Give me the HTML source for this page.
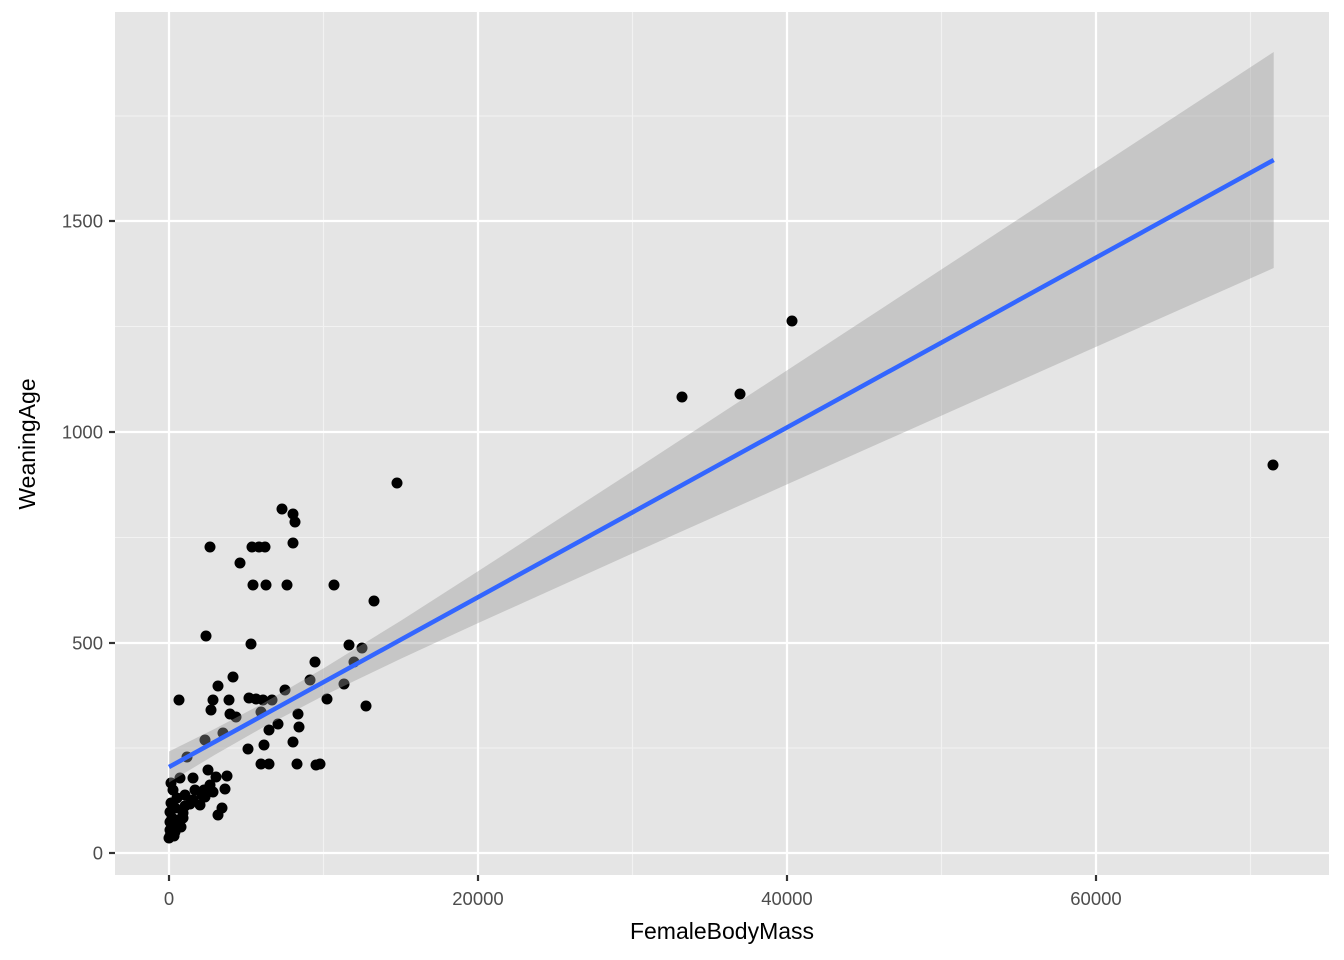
<!DOCTYPE html>
<html><head><meta charset="utf-8"><style>body{margin:0;background:#fff}svg{display:block}</style></head><body>
<svg width="1344" height="960" xmlns="http://www.w3.org/2000/svg" font-family="Liberation Sans, sans-serif">
<rect x="115" y="12" width="1214" height="863" fill="#e5e5e5"/>
<g stroke="#f2f2f2" stroke-width="1.1">
<line x1="323.5" x2="323.5" y1="12" y2="875"/><line x1="632.5" x2="632.5" y1="12" y2="875"/><line x1="941.5" x2="941.5" y1="12" y2="875"/><line x1="1250.5" x2="1250.5" y1="12" y2="875"/>
<line x1="115" x2="1329" y1="748" y2="748"/><line x1="115" x2="1329" y1="537.5" y2="537.5"/><line x1="115" x2="1329" y1="326.5" y2="326.5"/><line x1="115" x2="1329" y1="116" y2="116"/>
</g>
<g stroke="#fff" stroke-width="2.2">
<line x1="169" x2="169" y1="12" y2="875"/><line x1="478" x2="478" y1="12" y2="875"/><line x1="787" x2="787" y1="12" y2="875"/><line x1="1096" x2="1096" y1="12" y2="875"/>
<line x1="115" x2="1329" y1="853" y2="853"/><line x1="115" x2="1329" y1="643" y2="643"/><line x1="115" x2="1329" y1="432" y2="432"/><line x1="115" x2="1329" y1="221" y2="221"/>
</g>
<g fill="#000">
<circle cx="1273" cy="465" r="5.5"/><circle cx="792" cy="321" r="5.5"/><circle cx="740" cy="394" r="5.5"/><circle cx="682" cy="397" r="5.5"/><circle cx="397" cy="483" r="5.5"/><circle cx="374" cy="601" r="5.5"/><circle cx="334" cy="585" r="5.5"/><circle cx="282" cy="509" r="5.5"/><circle cx="293" cy="514" r="5.5"/><circle cx="295" cy="522" r="5.5"/><circle cx="293" cy="543" r="5.5"/><circle cx="252" cy="547" r="5.5"/><circle cx="259" cy="547" r="5.5"/><circle cx="265" cy="547" r="5.5"/><circle cx="210" cy="547" r="5.5"/><circle cx="240" cy="563" r="5.5"/><circle cx="253" cy="585" r="5.5"/><circle cx="266" cy="585" r="5.5"/><circle cx="287" cy="585" r="5.5"/><circle cx="206" cy="636" r="5.5"/><circle cx="251" cy="644" r="5.5"/><circle cx="349" cy="645" r="5.5"/><circle cx="362" cy="648" r="5.5"/><circle cx="354" cy="662" r="5.5"/><circle cx="315" cy="662" r="5.5"/><circle cx="310" cy="680" r="5.5"/><circle cx="344" cy="684" r="5.5"/><circle cx="327" cy="699" r="5.5"/><circle cx="298" cy="714" r="5.5"/><circle cx="366" cy="706" r="5.5"/><circle cx="233" cy="677" r="5.5"/><circle cx="218" cy="686" r="5.5"/><circle cx="213" cy="700" r="5.5"/><circle cx="211" cy="710" r="5.5"/><circle cx="179" cy="700" r="5.5"/><circle cx="229" cy="700" r="5.5"/><circle cx="236" cy="717" r="5.5"/><circle cx="230" cy="714" r="5.5"/><circle cx="249" cy="698" r="5.5"/><circle cx="256" cy="699" r="5.5"/><circle cx="263" cy="700" r="5.5"/><circle cx="261" cy="712" r="5.5"/><circle cx="272" cy="700" r="5.5"/><circle cx="285" cy="690" r="5.5"/><circle cx="278" cy="724" r="5.5"/><circle cx="269" cy="730" r="5.5"/><circle cx="299" cy="727" r="5.5"/><circle cx="264" cy="745" r="5.5"/><circle cx="293" cy="742" r="5.5"/><circle cx="223" cy="733" r="5.5"/><circle cx="205" cy="740" r="5.5"/><circle cx="248" cy="749" r="5.5"/><circle cx="261" cy="764" r="5.5"/><circle cx="269" cy="764" r="5.5"/><circle cx="297" cy="764" r="5.5"/><circle cx="316" cy="765" r="5.5"/><circle cx="320" cy="764" r="5.5"/><circle cx="187" cy="757" r="5.5"/><circle cx="208" cy="770" r="5.5"/><circle cx="216" cy="777" r="5.5"/><circle cx="227" cy="776" r="5.5"/><circle cx="193" cy="778" r="5.5"/><circle cx="180" cy="778" r="5.5"/><circle cx="171" cy="783" r="5.5"/><circle cx="210" cy="785" r="5.5"/><circle cx="225" cy="789" r="5.5"/><circle cx="222" cy="808" r="5.5"/><circle cx="218" cy="815" r="5.5"/><circle cx="205" cy="797" r="5.5"/><circle cx="213" cy="792" r="5.5"/><circle cx="202" cy="795" r="5.5"/><circle cx="195" cy="790" r="5.5"/><circle cx="190" cy="804" r="5.5"/><circle cx="177" cy="798" r="5.5"/><circle cx="175" cy="808" r="5.5"/><circle cx="183" cy="818" r="5.5"/><circle cx="181" cy="827" r="5.5"/><circle cx="183" cy="813" r="5.5"/><circle cx="171" cy="803" r="5.5"/><circle cx="170" cy="812" r="5.5"/><circle cx="170" cy="822" r="5.5"/><circle cx="170" cy="830" r="5.5"/><circle cx="170" cy="836" r="5.5"/><circle cx="175" cy="832" r="5.5"/><circle cx="178" cy="820" r="5.5"/><circle cx="173" cy="790" r="5.5"/><circle cx="185" cy="795" r="5.5"/><circle cx="200" cy="805" r="5.5"/><circle cx="204" cy="790" r="5.5"/><circle cx="193" cy="800" r="5.5"/><circle cx="185" cy="806" r="5.5"/><circle cx="176" cy="826" r="5.5"/><circle cx="172" cy="818" r="5.5"/><circle cx="174" cy="836" r="5.5"/><circle cx="169" cy="838" r="5.5"/><circle cx="171" cy="834" r="5.5"/><circle cx="177" cy="828" r="5.5"/>
</g>
<polygon fill="#999" fill-opacity="0.4" points="169,751.5 215.4,728.5 261.7,704.1 323.5,668.4 400.8,620.7 478,571.3 632.5,471.2 787,370.4 941.5,269.4 1096,168.3 1273.7,52 1273.7,268 1096,346.9 941.5,415.6 787,484.4 632.5,553.4 478,623.1 400.8,658.7 323.5,695.8 261.7,728.1 215.4,754.5 169,782.5"/>
<line x1="169" y1="767" x2="1273.7" y2="160" stroke="#3366ff" stroke-width="4.5"/>
<g stroke="#333" stroke-width="2.2">
<line x1="169" x2="169" y1="875" y2="881"/><line x1="478" x2="478" y1="875" y2="881"/><line x1="787" x2="787" y1="875" y2="881"/><line x1="1096" x2="1096" y1="875" y2="881"/>
<line x1="109" x2="115" y1="853" y2="853"/><line x1="109" x2="115" y1="643" y2="643"/><line x1="109" x2="115" y1="432" y2="432"/><line x1="109" x2="115" y1="221" y2="221"/>
</g>
<g fill="#4d4d4d" font-size="18.5" text-anchor="middle">
<text x="169" y="905">0</text><text x="478" y="905">20000</text><text x="787" y="905">40000</text><text x="1096" y="905">60000</text>
</g>
<g fill="#4d4d4d" font-size="18.5" text-anchor="end">
<text x="103" y="859.5">0</text><text x="103" y="649.5">500</text><text x="103" y="438.5">1000</text><text x="103" y="227.5">1500</text>
</g>
<text x="722" y="939" font-size="23" text-anchor="middle" fill="#000">FemaleBodyMass</text>
<text transform="translate(35,444) rotate(-90)" font-size="23" text-anchor="middle" fill="#000">WeaningAge</text>
</svg>
</body></html>
